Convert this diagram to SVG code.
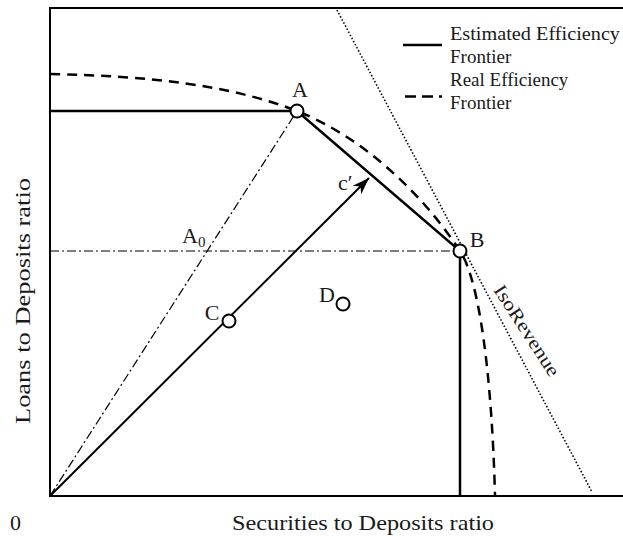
<svg xmlns="http://www.w3.org/2000/svg" width="623" height="536" viewBox="0 0 623 536">
<style>
text{font-family:"Liberation Serif","DejaVu Serif",serif;fill:#1a1a1a}
.lbl{font-size:22px}
.leg{font-size:19px}
.ax{font-size:22px}
.axis{fill:none;stroke:#000;stroke-width:2}
.est{fill:none;stroke:#000;stroke-width:2.5}
.real{fill:none;stroke:#000;stroke-width:2.5;stroke-dasharray:10 7}
.dd{fill:none;stroke:#000;stroke-width:1.2;stroke-dasharray:9 3 2 3}
.dot{fill:none;stroke:#000;stroke-width:1.6;stroke-dasharray:1.5 2}
.pt{fill:#fff;stroke:#000;stroke-width:2}
</style>
<defs>
<marker id="arr" markerUnits="userSpaceOnUse" markerWidth="20" markerHeight="14" viewBox="-18 -7 20 14" refX="0" refY="0" orient="auto">
<path d="M0,0 L-17,-6 L-12,0 L-17,6 Z" fill="#000"/>
</marker>
</defs>
<g id="axes">
<path class="axis" d="M623,8 L50,8 L50,496 L623,496"/>
</g>
<g id="connectors">
<path id="dashdot-diag" class="dd" d="M50,496 L297,111"/>
<path id="dashdot-horiz" class="dd" d="M50,251 L460,251"/>
<path id="isorevenue" class="dot" d="M337,10 L592,492"/>
<path id="real-frontier" class="real" d="M50,74 C150,76 230,85 297,111 C360,136 420,190 460,251 C480,281 492,380 495,496"/>
<path id="est-frontier" class="est" d="M50,111 L297,111 L460,251 L460,496"/>
<path id="arrow" class="est" style="stroke-width:2" d="M50,496 L369,178" marker-end="url(#arr)"/>
</g>
<g id="node-A"><circle class="pt" cx="297" cy="111" r="6.5"/><text class="lbl" x="300" y="97" text-anchor="middle">A</text></g>
<g id="node-B"><circle class="pt" cx="460" cy="251" r="6.5"/><text class="lbl" x="477" y="247" text-anchor="middle">B</text></g>
<g id="node-C"><circle class="pt" cx="229" cy="321" r="6.5"/><text class="lbl" x="212" y="320" text-anchor="middle">C</text></g>
<g id="node-D"><circle class="pt" cx="343" cy="304" r="6.5"/><text class="lbl" x="327" y="302" text-anchor="middle">D</text></g>
<g id="label-A0"><text class="lbl" x="182" y="243">A<tspan font-size="15" dy="4">0</tspan></text></g>
<g id="label-c"><text class="lbl" x="338" y="190">c′</text></g>
<g id="label-iso"><text class="leg" transform="translate(493,290) rotate(57)" textLength="105" lengthAdjust="spacingAndGlyphs">IsoRevenue</text></g>
<g id="legend">
<line class="est" x1="403" y1="45" x2="442" y2="45"/>
<line class="real" x1="405" y1="96.5" x2="442" y2="96.5" style="stroke-dasharray:11 6"/>
<text class="leg" x="450" y="40" textLength="170" lengthAdjust="spacingAndGlyphs">Estimated Efficiency</text>
<text class="leg" x="450" y="63">Frontier</text>
<text class="leg" x="450" y="86">Real Efficiency</text>
<text class="leg" x="450" y="109">Frontier</text>
</g>
<g id="axis-labels">
<text class="ax" x="10" y="530">0</text>
<text class="ax" x="232" y="530" textLength="262" lengthAdjust="spacingAndGlyphs">Securities to Deposits ratio</text>
<text class="ax" transform="translate(30,424) rotate(-90)" textLength="246" lengthAdjust="spacingAndGlyphs">Loans to Deposits ratio</text>
</g>
</svg>
